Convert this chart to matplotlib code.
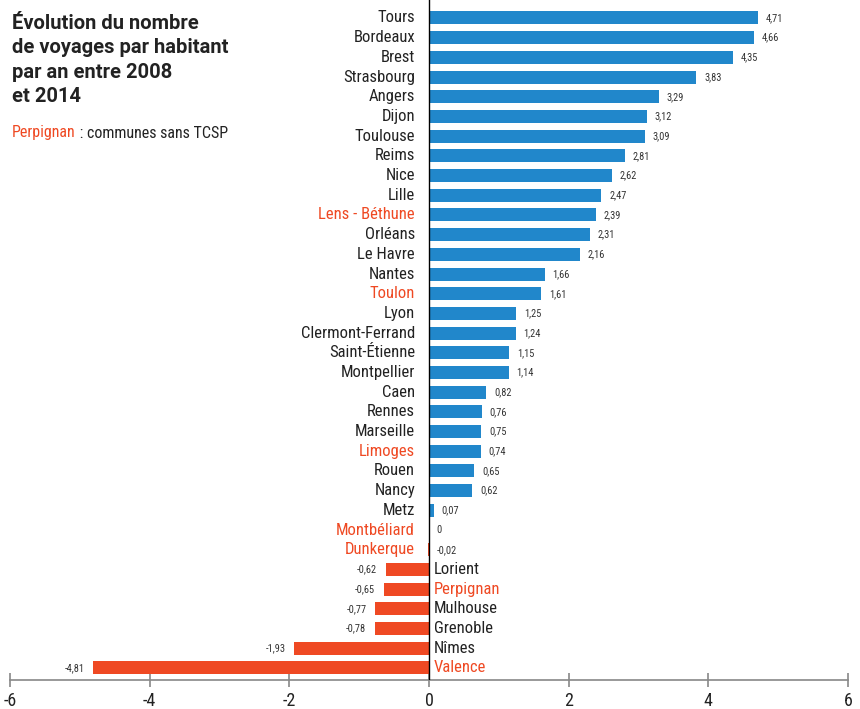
import matplotlib.pyplot as plt
from matplotlib import font_manager

cities = ['Tours', 'Bordeaux', 'Brest', 'Strasbourg', 'Angers', 'Dijon', 'Toulouse',
          'Reims', 'Nice', 'Lille', 'Lens - Béthune', 'Orléans', 'Le Havre', 'Nantes',
          'Toulon', 'Lyon', 'Clermont-Ferrand', 'Saint-Étienne', 'Montpellier', 'Caen',
          'Rennes', 'Marseille', 'Limoges', 'Rouen', 'Nancy', 'Metz', 'Montbéliard',
          'Dunkerque', 'Lorient', 'Perpignan', 'Mulhouse', 'Grenoble', 'Nîmes', 'Valence']
values = [4.71, 4.66, 4.35, 3.83, 3.29, 3.12, 3.09, 2.81, 2.62, 2.47, 2.39, 2.31, 2.16,
          1.66, 1.61, 1.25, 1.24, 1.15, 1.14, 0.82, 0.76, 0.75, 0.74, 0.65, 0.62, 0.07,
          0.0, -0.02, -0.62, -0.65, -0.77, -0.78, -1.93, -4.81]
no_tcsp = ['Lens - Béthune', 'Toulon', 'Limoges', 'Montbéliard', 'Dunkerque',
           'Perpignan', 'Valence']
xticks = [-6, -4, -2, 0, 2, 4, 6]

# narrow font if we have one
names = {f.name for f in font_manager.fontManager.ttflist}
narrow = 'Roboto Condensed' if 'Roboto Condensed' in names else 'DejaVu Sans'

BLUE = '#2187cb'
RED = '#ef4923'
DARK = '#222222'
FS = dict(family=narrow, stretch='condensed')

fig = plt.figure(figsize=(8.6, 7.09), dpi=100)
ax = fig.add_axes([10 / 860, 29 / 709, 838 / 860, 680 / 709])

ypos = list(range(len(cities)))
colors = [BLUE if v >= 0 else RED for v in values]
ax.barh(ypos, values, height=0.66, color=colors, zorder=2)

for y, name, v in zip(ypos, cities, values):
    col = RED if name in no_tcsp else DARK
    lab = '0' if v == 0 else f'{v:.2f}'.replace('.', ',')
    if v > -0.1:
        ax.text(-0.2, y, name, ha='right', va='center', fontsize=12, color=col, **FS)
        ax.text(max(v, 0) + 0.11, y, lab, ha='left', va='center', fontsize=7.5,
                color='#333333', **FS)
    else:
        ax.text(0.07, y, name, ha='left', va='center', fontsize=12, color=col, **FS)
        ax.text(v - 0.12, y, lab, ha='right', va='center', fontsize=7.5,
                color='#333333', **FS)

ax.axvline(0, color='black', linewidth=1, zorder=3)
ax.set_xlim(-6, 6)
ax.set_ylim(33.61, -0.91)

for s in ['top', 'right', 'left']:
    ax.spines[s].set_visible(False)
ax.spines['bottom'].set_color('#888888')
ax.spines['bottom'].set_linewidth(1.2)
ax.set_yticks([])
ax.set_xticks(xticks)
ax.set_xticklabels([str(t) for t in xticks], fontsize=13, color=DARK, **FS)
ax.tick_params(axis='x', direction='inout', length=10, width=1.2, color='#888888', pad=4)
ax.set_facecolor('none')

fig.text(12 / 860, 1 - 14 / 709,
         'Évolution du nombre\nde voyages par habitant\npar an entre 2008\net 2014',
         ha='left', va='top', fontsize=14.5, fontweight='bold', color=DARK,
         family='Roboto', linespacing=1.35)
t1 = fig.text(12 / 860, 1 - 133 / 709, 'Perpignan', ha='left', va='center',
              fontsize=11.5, color=RED, **FS)
ax.annotate(' : communes sans TCSP', xy=(1, 0.5), xycoords=t1, ha='left', va='center',
            fontsize=11.5, color=DARK, annotation_clip=False, **FS)

fig.savefig('out.png', dpi=100)
